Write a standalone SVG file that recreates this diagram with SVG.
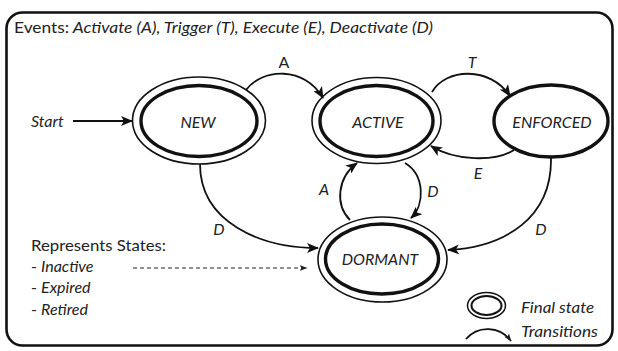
<svg xmlns="http://www.w3.org/2000/svg" width="618" height="351" viewBox="0 0 618 351">
<defs>
<style>
text{font-family:Lato,"Liberation Sans",sans-serif;font-size:16px;fill:#222}
.it{font-style:italic}
.lbl{font-style:italic;text-anchor:middle}
.outer{fill:none;stroke:#111;stroke-width:1.6}
.inner{fill:none;stroke:#111;stroke-width:3.4}
.edge{fill:none;stroke:#111;stroke-width:1.8}
.dash{fill:none;stroke:#222;stroke-width:1.1;stroke-dasharray:4 3}
</style>
<marker id="ah" viewBox="0 0 12 10" refX="11" refY="5" markerWidth="12" markerHeight="10" markerUnits="userSpaceOnUse" orient="auto">
<path d="M0,0 L12,5 L0,10 L3,5 Z" fill="#111"/>
</marker>
<marker id="ahs" viewBox="0 0 8 6" refX="7.5" refY="3" markerWidth="8" markerHeight="6" markerUnits="userSpaceOnUse" orient="auto">
<path d="M0,0 L8,3 L0,6 L2,3 Z" fill="#222"/>
</marker>
</defs>
<rect width="618" height="351" fill="#fff"/>
<rect x="6.5" y="12.5" width="606" height="333" rx="16" fill="none" stroke="#111" stroke-width="2.6"/>
<text x="14" y="33" font-size="17.5" textLength="419" lengthAdjust="spacingAndGlyphs">Events:<tspan class="it"> Activate (A), Trigger (T), Execute (E), Deactivate (D)</tspan></text>

<g id="node-new">
<ellipse class="outer" cx="199" cy="120.5" rx="66.5" ry="43.5"/>
<ellipse class="inner" cx="199" cy="121" rx="58" ry="35.5"/>
<text class="lbl" x="198" y="128">NEW</text>
</g>
<g id="node-active">
<ellipse class="outer" cx="376.5" cy="120.5" rx="64.5" ry="43"/>
<ellipse class="inner" cx="376.5" cy="121" rx="56.5" ry="35.5"/>
<text class="lbl" x="378" y="128">ACTIVE</text>
</g>
<g id="node-enforced">
<ellipse class="inner" cx="551" cy="121" rx="57" ry="36"/>
<text class="lbl" x="552" y="128">ENFORCED</text>
</g>
<g id="node-dormant">
<ellipse class="outer" cx="382.5" cy="259.5" rx="64.5" ry="42.5"/>
<ellipse class="inner" cx="382" cy="259" rx="56.5" ry="35"/>
<text class="lbl" x="380" y="265">DORMANT</text>
</g>

<g id="connectors">
<line class="edge" x1="73" y1="121" x2="132" y2="121" marker-end="url(#ah)"/>
<path class="edge" d="M246,90 C262,68 305,66 323,98" marker-end="url(#ah)"/>
<path class="edge" d="M432,92 C446,68 490,66 510,96" marker-end="url(#ah)"/>
<path class="edge" d="M514,150 C495,162 455,161 431,146" marker-end="url(#ah)"/>
<path class="edge" d="M200,164 C200,222 260,248 318,248" marker-end="url(#ah)"/>
<path class="edge" d="M405,163 C425,175 425,205 411,218" marker-end="url(#ah)"/>
<path class="edge" d="M350,220 C335,205 337,178 357,163" marker-end="url(#ah)"/>
<path class="edge" d="M551,158 C552,218 505,247 448,250" marker-end="url(#ah)"/>
<line class="dash" x1="133" y1="268" x2="307" y2="268" marker-end="url(#ahs)"/>
</g>

<g id="edge-labels">
<text class="it" x="31" y="127" font-size="17">Start</text>
<text x="284" y="68" text-anchor="middle">A</text>
<text class="lbl" x="472" y="68">T</text>
<text class="lbl" x="219" y="235">D</text>
<text class="lbl" x="324" y="195">A</text>
<text class="lbl" x="433" y="197">D</text>
<text class="lbl" x="478" y="179">E</text>
<text class="lbl" x="541" y="235">D</text>
<text x="31" y="251" font-size="16.5" textLength="135" lengthAdjust="spacingAndGlyphs">Represents States:</text>
<text x="31" y="272" font-size="16.5">- <tspan class="it">Inactive</tspan></text>
<text x="31" y="293" font-size="16.5">- <tspan class="it">Expired</tspan></text>
<text x="31" y="315" font-size="16.5">- <tspan class="it">Retired</tspan></text>
</g>

<g id="legend">
<ellipse cx="486.5" cy="305.5" rx="19" ry="13" fill="none" stroke="#111" stroke-width="1.5"/>
<ellipse cx="486.5" cy="305.5" rx="15" ry="9.5" fill="none" stroke="#111" stroke-width="2"/>
<text class="it" x="521" y="313" font-size="16.5" textLength="73" lengthAdjust="spacingAndGlyphs">Final state</text>
<path class="edge" d="M466,339 C478,325 500,326 511,341" stroke-width="1.5" marker-end="url(#ahs)"/>
<text class="it" x="521" y="337" font-size="16.5" textLength="77" lengthAdjust="spacingAndGlyphs">Transitions</text>
</g>
</svg>
